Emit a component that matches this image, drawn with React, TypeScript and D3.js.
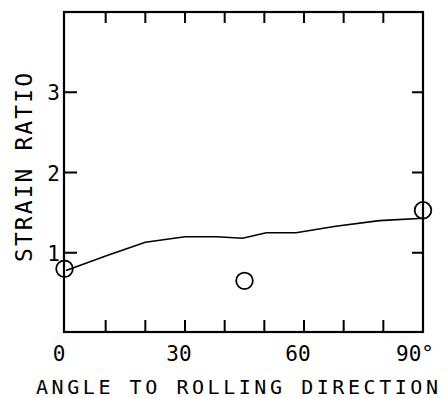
import React from "react";
import * as d3 from "d3";

const lineAngles = [0, 10, 20, 30, 38, 44.5, 50.5, 58, 68, 79, 90];
const lineRatios = [0.78, 0.96, 1.13, 1.20, 1.20, 1.18, 1.25, 1.25, 1.33, 1.40, 1.43];
const pointAngles = [0, 45, 90];
const pointRatios = [0.80, 0.65, 1.53];
const xTickLabels = ["0", "30", "60", "90°"];
const xTickValues = [0, 30, 60, 90];
const xMinorTicks = [10, 20, 30, 40, 50, 60, 70, 80];
const yTickValues = [1, 2, 3];

const W = 448;
const H = 398;
const FONT = "'DejaVu Sans Mono', monospace";

export default function App() {
  const left = 64, right = 423, top = 12, bottom = 332;
  const x = d3.scaleLinear().domain([0, 90]).range([66, 423]);
  const y = d3.scaleLinear().domain([0, 4]).range([333, 12]);
  const line = d3
    .line<number>()
    .x((_, i) => x(lineAngles[i]))
    .y((d) => y(d))
    .curve(d3.curveLinear);
  const xLabelDx = [-7, -6, -6, -8];

  return (
    <svg
      width={W}
      height={H}
      style={{ position: "absolute", left: 0, top: 0, background: "#fff" }}
    >
      <rect x={0} y={0} width={W} height={H} fill="#fff" />
      <g stroke="#000" strokeWidth={1.6} fill="none">
        <rect x={left} y={top} width={right - left} height={bottom - top} strokeWidth={2.2} />
        {xMinorTicks.map((t) => (
          <g key={t}>
            <line x1={x(t)} x2={x(t)} y1={top} y2={top + 11} strokeWidth={2} />
            <line x1={x(t)} x2={x(t)} y1={bottom} y2={bottom - 12} strokeWidth={2} />
          </g>
        ))}
        {yTickValues.map((t) => (
          <g key={t}>
            <line x1={left} x2={left + 13} y1={y(t)} y2={y(t)} strokeWidth={2} />
            <line x1={right} x2={right - 11} y1={y(t)} y2={y(t)} strokeWidth={2} />
          </g>
        ))}
        <path d={line(lineRatios) || ""} strokeWidth={1.6} />
        {pointAngles.map((a, i) => (
          <circle key={i} cx={x(a) - (i === 0 ? 1.5 : 0)} cy={y(pointRatios[i])} r={8.3} strokeWidth={1.8} />
        ))}
      </g>
      <g fontFamily={FONT} fontSize={21} fill="#000">
        {xTickValues.map((v, i) => (
          <text key={v} x={x(v) + xLabelDx[i]} y={361} textAnchor="middle">
            {xTickLabels[i]}
          </text>
        ))}
        {yTickValues.map((v) => (
          <text key={v} x={60} y={y(v) + 8} textAnchor="end">
            {v}
          </text>
        ))}
      </g>
      <text
        x={36}
        y={394}
        fontFamily={FONT}
        fontSize={20}
        textLength={402}
        lengthAdjust="spacing"
      >
        ANGLE TO ROLLING DIRECTION
      </text>
      <text
        transform="translate(32,262) rotate(-90)"
        x={0}
        y={0}
        fontFamily={FONT}
        fontSize={23}
        textLength={189}
        lengthAdjust="spacing"
      >
        STRAIN RATIO
      </text>
    </svg>
  );
}
